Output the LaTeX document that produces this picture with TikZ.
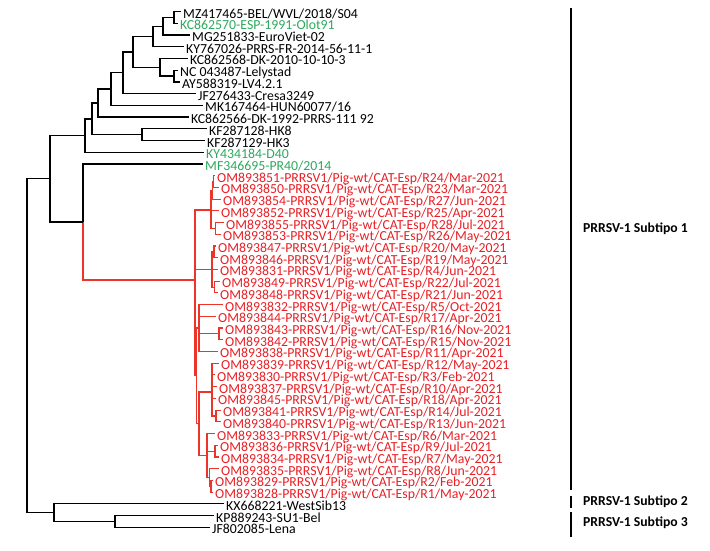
\documentclass[tikz,border=0pt]{standalone}
\usepackage{fontspec}
\setmainfont{Carlito}
\usepackage{tikz}
\usetikzlibrary{calc,positioning}
\definecolor{rojo}{RGB}{232,32,38}
\definecolor{rojorama}{RGB}{236,52,40}
\definecolor{verde}{RGB}{46,168,92}
\newcommand{\fila}[1]{11.6+11.72*#1}
\tikzset{
    hoja/.style={anchor=west,inner xsep=2.5pt,inner ysep=0pt,text height=13pt,text depth=-1.5pt,node font=\fontsize{13.8}{14}\selectfont},
    hojaverde/.style={hoja,text=verde},
    hojaroja/.style={hoja,text=rojo},
    rama/.style={draw,line width=1.3pt},
    ramaroja/.style={draw,rojorama,line width=1.1pt},
    barra/.style={draw,line width=2.6pt},
    subtipo/.style={anchor=west,inner sep=0pt,node font=\fontsize{13.7}{14}\selectfont\bfseries},
}

\begin{document}
\begin{tikzpicture}[x=1pt,y=-1pt]
    \useasboundingbox (0,0) rectangle (710,550);
    % hojas
    \node [hoja] (mz) at (180.5,{\fila{0}}) {MZ417465-BEL/WVL/2018/S04};
    \node [hojaverde] (olot) at (177.5,{\fila{1}}) {KC862570-ESP-1991-Olot91};
    \node [hoja] (mg) at (189.5,{\fila{2}}) {MG251833-EuroViet-02};
    \node [hoja] (ky) at (183.5,{\fila{3}}) {KY767026-PRRS-FR-2014-56-11-1};
    \node [hoja] (dka) at (187.5,{\fila{4}}) {KC862568-DK-2010-10-10-3};
    \node [hoja] (ly) at (177.5,{\fila{5}}) {NC 043487-Lelystad};
    \node [hoja] (lv) at (179.5,{\fila{6}}) {AY588319-LV4.2.1};
    \node [hoja] (cresa) at (195.5,{\fila{7}}) {JF276433-Cresa3249};
    \node [hoja] (hun) at (202.5,{\fila{8}}) {MK167464-HUN60077/16};
    \node [hoja] (dkb) at (188.5,{\fila{9}}) {KC862566-DK-1992-PRRS-111 92};
    \node [hoja] (hk8) at (206.5,{\fila{10}}) {KF287128-HK8};
    \node [hoja] (hk3) at (204.5,{\fila{11}}) {KF287129-HK3};
    \node [hojaverde] (d40) at (203.5,{\fila{12}}) {KY434184-D40};
    \node [hojaverde] (pr40) at (202.5,{\fila{13}}) {MF346695-PR40/2014};
    \node [hojaroja] (r24) at (214.5,{\fila{14}}) {OM893851-PRRSV1/Pig-wt/CAT-Esp/R24/Mar-2021};
    \node [hojaroja] (r23) at (218.5,{\fila{15}}) {OM893850-PRRSV1/Pig-wt/CAT-Esp/R23/Mar-2021};
    \node [hojaroja] (r27) at (220.5,{\fila{16}}) {OM893854-PRRSV1/Pig-wt/CAT-Esp/R27/Jun-2021};
    \node [hojaroja] (r25) at (218.5,{\fila{17}}) {OM893852-PRRSV1/Pig-wt/CAT-Esp/R25/Apr-2021};
    \node [hojaroja] (r28) at (223.5,{\fila{18}}) {OM893855-PRRSV1/Pig-wt/CAT-Esp/R28/Jul-2021};
    \node [hojaroja] (r26) at (220.5,{\fila{19}}) {OM893853-PRRSV1/Pig-wt/CAT-Esp/R26/May-2021};
    \node [hojaroja] (r20) at (215.5,{\fila{20}}) {OM893847-PRRSV1/Pig-wt/CAT-Esp/R20/May-2021};
    \node [hojaroja] (r19) at (217.5,{\fila{21}}) {OM893846-PRRSV1/Pig-wt/CAT-Esp/R19/May-2021};
    \node [hojaroja] (r4) at (217.5,{\fila{22}}) {OM893831-PRRSV1/Pig-wt/CAT-Esp/R4/Jun-2021};
    \node [hojaroja] (r22) at (219.5,{\fila{23}}) {OM893849-PRRSV1/Pig-wt/CAT-Esp/R22/Jul-2021};
    \node [hojaroja] (r21) at (217.5,{\fila{24}}) {OM893848-PRRSV1/Pig-wt/CAT-Esp/R21/Jun-2021};
    \node [hojaroja] (r5) at (222.5,{\fila{25}}) {OM893832-PRRSV1/Pig-wt/CAT-Esp/R5/Oct-2021};
    \node [hojaroja] (r17) at (215.5,{\fila{26}}) {OM893844-PRRSV1/Pig-wt/CAT-Esp/R17/Apr-2021};
    \node [hojaroja] (r16) at (222.5,{\fila{27}}) {OM893843-PRRSV1/Pig-wt/CAT-Esp/R16/Nov-2021};
    \node [hojaroja] (r15) at (222.5,{\fila{28}}) {OM893842-PRRSV1/Pig-wt/CAT-Esp/R15/Nov-2021};
    \node [hojaroja] (r11) at (217.5,{\fila{29}}) {OM893838-PRRSV1/Pig-wt/CAT-Esp/R11/Apr-2021};
    \node [hojaroja] (r12) at (218.5,{\fila{30}}) {OM893839-PRRSV1/Pig-wt/CAT-Esp/R12/May-2021};
    \node [hojaroja] (r3) at (214.5,{\fila{31}}) {OM893830-PRRSV1/Pig-wt/CAT-Esp/R3/Feb-2021};
    \node [hojaroja] (r10) at (216.5,{\fila{32}}) {OM893837-PRRSV1/Pig-wt/CAT-Esp/R10/Apr-2021};
    \node [hojaroja] (r18) at (215.5,{\fila{33}}) {OM893845-PRRSV1/Pig-wt/CAT-Esp/R18/Apr-2021};
    \node [hojaroja] (r14) at (220.5,{\fila{34}}) {OM893841-PRRSV1/Pig-wt/CAT-Esp/R14/Jul-2021};
    \node [hojaroja] (r13) at (220.5,{\fila{35}}) {OM893840-PRRSV1/Pig-wt/CAT-Esp/R13/Jun-2021};
    \node [hojaroja] (r6) at (214.5,{\fila{36}}) {OM893833-PRRSV1/Pig-wt/CAT-Esp/R6/Mar-2021};
    \node [hojaroja] (r9) at (217.5,{\fila{37}}) {OM893836-PRRSV1/Pig-wt/CAT-Esp/R9/Jul-2021};
    \node [hojaroja] (r7) at (218.5,{\fila{38}}) {OM893834-PRRSV1/Pig-wt/CAT-Esp/R7/May-2021};
    \node [hojaroja] (r8) at (218.5,{\fila{39}}) {OM893835-PRRSV1/Pig-wt/CAT-Esp/R8/Jun-2021};
    \node [hojaroja] (r2) at (212.5,{\fila{40}}) {OM893829-PRRSV1/Pig-wt/CAT-Esp/R2/Feb-2021};
    \node [hojaroja] (r1) at (212.5,{\fila{41}}) {OM893828-PRRSV1/Pig-wt/CAT-Esp/R1/May-2021};
    \node [hoja] (sib) at (223.5,{\fila{42}}) {KX668221-WestSib13};
    \node [hoja] (su1) at (213.5,{\fila{43}}) {KP889243-SU1-Bel};
    \node [hoja] (lena) at (209.5,{\fila{44}}) {JF802085-Lena};
    % nodos internos
    \coordinate (A) at (174,17.5);
    \coordinate (B) at (163,26.2);
    \coordinate (C) at (153,36.5);
    \coordinate (E) at (174,76.1);
    \coordinate (D) at (160,67.3);
    \coordinate (F) at (133,51.9);
    \coordinate (G) at (123,72.8);
    \coordinate (H) at (111,89.1);
    \coordinate (I) at (98,103.1);
    \coordinate (K) at (142,134.7);
    \coordinate (J) at (92,118.9);
    \coordinate (L) at (85,135.6);
    \coordinate (N) at (83,222);
    \coordinate (M) at (50,178.8);
    \coordinate (Q) at (115,521.5);
    \coordinate (P) at (54,512.6);
    \coordinate (O) at (27,345.7);
    \coordinate (R) at (195,280);
    \coordinate (n1) at (213.5,181.6);
    \coordinate (n2) at (212.5,190.3);
    \coordinate (n3) at (215.5,228.5);
    \coordinate (S1) at (211,210);
    \coordinate (m1) at (214,251.9);
    \coordinate (m2) at (214.5,287.1);
    \coordinate (S2) at (212,269.4);
    \coordinate (Y) at (219,333.9);
    \coordinate (X) at (199,328);
    \coordinate (s3b) at (216,416);
    \coordinate (S3) at (212,392);
    \coordinate (q1) at (215,451.1);
    \coordinate (q3) at (211,486.3);
    \coordinate (q2) at (209.5,477.5);
    \coordinate (S4) at (207,455.5);
    \coordinate (V) at (199,423.8);
    \coordinate (T) at (196.5,375.9);
    % ramas
    \path [rama] (A) |- (mz.west) (A) |- (olot.west);
    \path [rama] (B) |- (A) (B) |- (mg.west);
    \path [rama] (C) |- (B) (C) |- (ky.west);
    \path [rama] (E) |- (ly.west) (E) |- (lv.west);
    \path [rama] (D) |- (dka.west) (D) |- (E);
    \path [rama] (F) |- (C) (F) |- (D);
    \path [rama] (G) |- (F) (G) |- (cresa.west);
    \path [rama] (H) |- (G) (H) |- (hun.west);
    \path [rama] (I) |- (H) (I) |- (dkb.west);
    \path [rama] (K) |- (hk8.west) (K) |- (hk3.west);
    \path [rama] (J) |- (I) (J) |- (K);
    \path [rama] (L) |- (J) (L) |- (d40.west);
    \path [rama] (N) |- (pr40.west);
    \path [ramaroja] (N) |- (R);
    \path [rama] (M) |- (L) (M) |- (N);
    \path [rama] (Q) |- (su1.west) (Q) |- (lena.west);
    \path [rama] (P) |- (sib.west) (P) |- (Q);
    \path [rama] (O) |- (M) (O) |- (P);
    % clado rojo
    \path [ramaroja] (n1) |- (r24.west) (n1) |- (r23.west);
    \path [ramaroja] (n2) |- (n1) (n2) |- (r27.west);
    \path [ramaroja] (n3) |- (r28.west) (n3) |- (r26.west);
    \path [ramaroja] (S1) |- (n2) (S1) |- (r25.west) (S1) |- (n3);
    \path [ramaroja] (m1) |- (r20.west) (m1) |- (r19.west);
    \path [ramaroja] (m2) |- (r22.west) (m2) |- (r21.west);
    \path [ramaroja] (S2) |- (m1) (S2) |- (r4.west) (S2) |- (m2);
    \path [ramaroja] (Y) |- (r16.west) (Y) |- (r15.west);
    \path [ramaroja] (X) |- (r5.west) (X) |- (r17.west) (X) |- (Y) (X) |- (r11.west);
    \path [ramaroja] (s3b) |- (r14.west) (s3b) |- (r13.west);
    \path [ramaroja] (S3) |- (r12.west) (S3) |- (r3.west) (S3) |- (r10.west) (S3) |- (r18.west) (S3) |- (s3b);
    \path [ramaroja] (q1) |- (r9.west) (q1) |- (r7.west);
    \path [ramaroja] (q3) |- (r2.west) (q3) |- (r1.west);
    \path [ramaroja] (q2) |- (r8.west) (q2) |- (q3);
    \path [ramaroja] (S4) |- (r6.west) (S4) |- (q1) (S4) |- (q2);
    \path [ramaroja] (V) |- (S3) (V) |- (S4);
    \path [ramaroja] (T) |- (X) (T) |- (V);
    \path [ramaroja] (R) |- (S1) (R) |- (S2) (R) |- (T);
    % subtipos
    \path [barra] (571,8) -- (571,490);
    \path [barra] (571,496) -- (571,508);
    \path [barra] (571,512) -- (571,537);
    \node [subtipo] (sub1) at (583,229) {PRRSV-1 Subtipo 1};
    \node [subtipo] (sub2) at (583,502) {PRRSV-1 Subtipo 2};
    \node [subtipo] (sub3) at (583,523) {PRRSV-1 Subtipo 3};
\end{tikzpicture}
\end{document}
